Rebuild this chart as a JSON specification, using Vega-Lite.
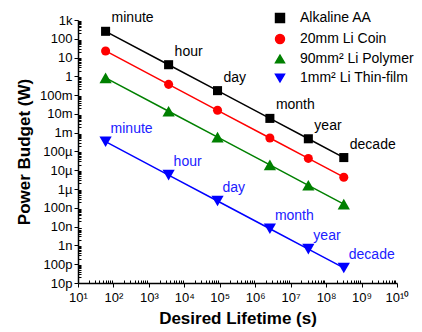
{
  "$schema": "https://vega.github.io/schema/vega-lite/v6.json",
  "width": 319,
  "height": 263,
  "autosize": {"type": "none"},
  "padding": {"left": 78, "top": 20, "right": 25, "bottom": 49},
  "config": {
    "font": "Liberation Sans",
    "view": {"stroke": null},
    "axis": {"grid": false, "domainColor": "black", "domainWidth": 1.5, "tickColor": "black", "tickWidth": 1, "labelColor": "black", "titleColor": "black", "labelFont": "Liberation Sans", "titleFont": "Liberation Sans", "labelFontSize": 13, "titleFontSize": 17, "titleFontWeight": "bold", "labelOverlap": false, "labelFlush": false},
    "legend": {"labelFontSize": 14, "labelFont": "Liberation Sans", "labelColor": "black", "symbolSize": 80, "rowPadding": 5, "labelOffset": 13, "symbolOpacity": 1}
  },
  "data": {
    "values": [
      {"series": "Alkaline AA", "label": "minute", "t": 60, "p": 250},
      {"series": "Alkaline AA", "label": "hour", "t": 3600, "p": 4.1667},
      {"series": "Alkaline AA", "label": "day", "t": 86400, "p": 0.17361},
      {"series": "Alkaline AA", "label": "month", "t": 2592000, "p": 0.005787},
      {"series": "Alkaline AA", "label": "year", "t": 31536000, "p": 0.00047565},
      {"series": "Alkaline AA", "label": "decade", "t": 315360000, "p": 0.000047565},
      {"series": "20mm Li Coin", "label": "minute", "t": 60, "p": 22.5},
      {"series": "20mm Li Coin", "label": "hour", "t": 3600, "p": 0.375},
      {"series": "20mm Li Coin", "label": "day", "t": 86400, "p": 0.015625},
      {"series": "20mm Li Coin", "label": "month", "t": 2592000, "p": 0.00052083},
      {"series": "20mm Li Coin", "label": "year", "t": 31536000, "p": 0.000042808},
      {"series": "20mm Li Coin", "label": "decade", "t": 315360000, "p": 0.0000042808},
      {"series": "90mm² Li Polymer", "label": "minute", "t": 60, "p": 0.8333},
      {"series": "90mm² Li Polymer", "label": "hour", "t": 3600, "p": 0.013889},
      {"series": "90mm² Li Polymer", "label": "day", "t": 86400, "p": 0.0005787},
      {"series": "90mm² Li Polymer", "label": "month", "t": 2592000, "p": 0.00001929},
      {"series": "90mm² Li Polymer", "label": "year", "t": 31536000, "p": 0.0000015855},
      {"series": "90mm² Li Polymer", "label": "decade", "t": 315360000, "p": 1.5855e-7},
      {"series": "1mm² Li Thin-film", "label": "minute", "t": 60, "p": 0.0003333},
      {"series": "1mm² Li Thin-film", "label": "hour", "t": 3600, "p": 0.000005556},
      {"series": "1mm² Li Thin-film", "label": "day", "t": 86400, "p": 2.315e-7},
      {"series": "1mm² Li Thin-film", "label": "month", "t": 2592000, "p": 7.716e-9},
      {"series": "1mm² Li Thin-film", "label": "year", "t": 31536000, "p": 6.342e-10},
      {"series": "1mm² Li Thin-film", "label": "decade", "t": 315360000, "p": 6.342e-11}
    ]
  },
  "encoding": {
    "x": {
      "field": "t", "type": "quantitative",
      "scale": {"type": "log", "domain": [10, 10000000000], "nice": false},
      "axis": {
        "title": "Desired Lifetime (s)",
        "tickCount": 50,
        "tickSize": {"condition": {"test": "abs(log(datum.value)/LN10 - round(log(datum.value)/LN10)) < 1e-6", "value": 4}, "value": -3},
        "labelExpr": "abs(log(datum.value)/LN10 - round(log(datum.value)/LN10)) < 1e-6 ? '10' + (round(log(datum.value)/LN10) == 10 ? '¹⁰' : ['⁰','¹','²','³','⁴','⁵','⁶','⁷','⁸','⁹'][round(log(datum.value)/LN10)]) : ''",
        "labelPadding": 4,
        "titlePadding": 6
      }
    },
    "y": {
      "field": "p", "type": "quantitative",
      "scale": {"type": "log", "domain": [1e-11, 1000], "nice": false},
      "axis": {
        "title": "Power Budget (W)",
        "tickCount": 50,
        "tickSize": {"condition": {"test": "abs(log(datum.value)/LN10 - round(log(datum.value)/LN10)) < 1e-6", "value": 4}, "value": -3},
        "labelExpr": "abs(log(datum.value)/LN10 - round(log(datum.value)/LN10)) < 1e-6 ? format(datum.value, '~s') : ''",
        "labelPadding": 2,
        "titlePadding": 6
      }
    },
    "color": {
      "field": "series", "type": "nominal",
      "scale": {"domain": ["Alkaline AA", "20mm Li Coin", "90mm² Li Polymer", "1mm² Li Thin-film"], "range": ["#000000", "#ff0000", "#008000", "#0000ff"]},
      "legend": {"title": null, "orient": "none", "legendX": 195, "legendY": -9}
    },
    "shape": {
      "field": "series", "type": "nominal",
      "scale": {"domain": ["Alkaline AA", "20mm Li Coin", "90mm² Li Polymer", "1mm² Li Thin-film"], "range": ["square", "circle", "triangle-up", "triangle-down"]},
      "legend": {"title": null, "orient": "none", "legendX": 195, "legendY": -9}
    }
  },
  "layer": [
    {
      "mark": {"type": "line", "strokeWidth": 1.5},
      "encoding": {"shape": null}
    },
    {
      "transform": [{"filter": "datum.series == 'Alkaline AA' || datum.series == '20mm Li Coin'"}],
      "mark": {"type": "point", "filled": true, "opacity": 1, "size": 82}
    },
    {
      "transform": [{"filter": "datum.series == '90mm² Li Polymer' || datum.series == '1mm² Li Thin-film'"}],
      "mark": {"type": "point", "filled": true, "opacity": 1, "size": 150}
    },
    {
      "transform": [{"filter": "datum.series == 'Alkaline AA'"}],
      "mark": {"type": "text", "align": "left", "baseline": "middle", "dx": 6, "dy": -13, "fontSize": 14},
      "encoding": {"text": {"field": "label"}, "color": {"value": "black"}, "shape": null}
    },
    {
      "transform": [{"filter": "datum.series == '1mm² Li Thin-film'"}],
      "mark": {"type": "text", "align": "left", "baseline": "middle", "dx": 5, "dy": -13, "fontSize": 14},
      "encoding": {"text": {"field": "label"}, "color": {"value": "#2020ff"}, "shape": null}
    }
  ]
}
